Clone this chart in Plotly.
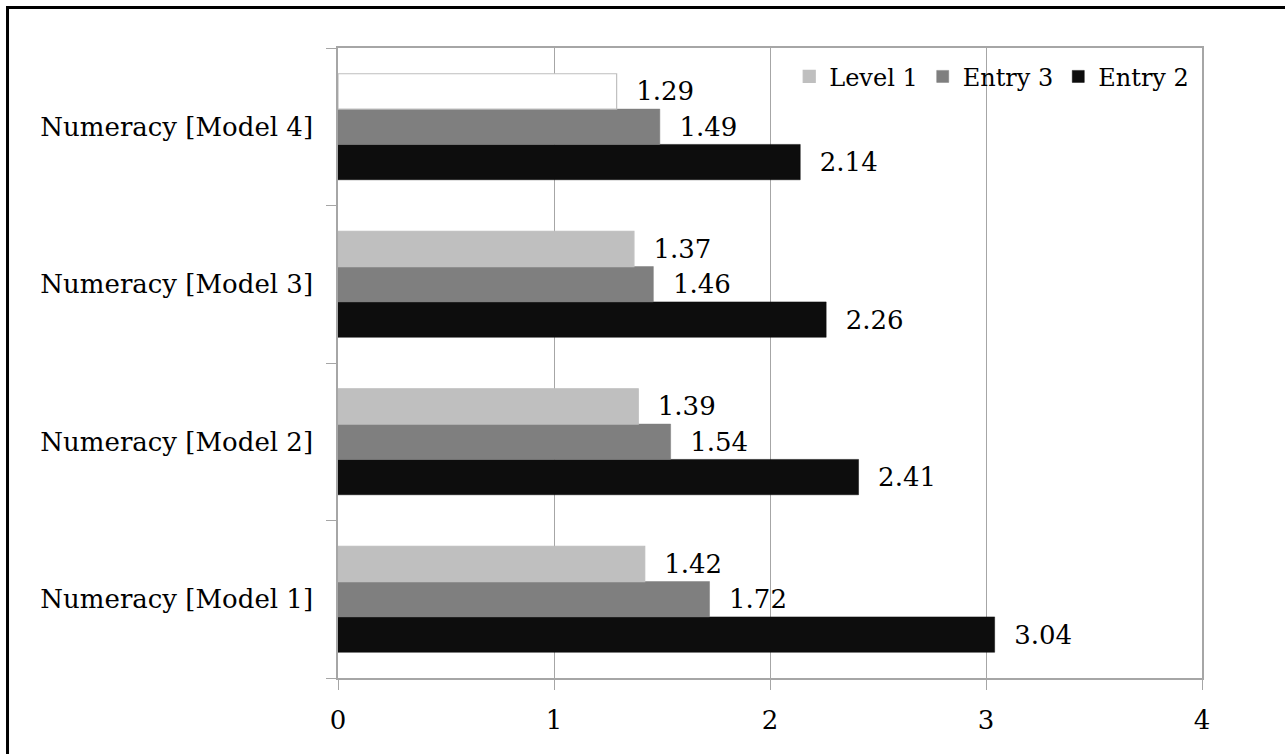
import plotly.graph_objects as go

categories = ["Numeracy [Model 1]", "Numeracy [Model 2]", "Numeracy [Model 3]", "Numeracy [Model 4]"]
level1 = [1.42, 1.39, 1.37, 1.29]
entry3 = [1.72, 1.54, 1.46, 1.49]
entry2 = [3.04, 2.41, 2.26, 2.14]
x_ticks = [0, 1, 2, 3, 4]

FONT = "DejaVu Serif"
level1_fill = ["#BFBFBF", "#BFBFBF", "#BFBFBF", "#FFFFFF"]

fig = go.Figure()
common = dict(orientation="h", textposition="outside", cliponaxis=False,
              texttemplate="\u00a0\u00a0%{x:.2f}",
              textfont=dict(family=FONT, size=26, color="#000000"))
fig.add_trace(go.Bar(name="Entry 2", y=categories, x=entry2,
                     marker=dict(color="#0D0D0D", line=dict(color="#0D0D0D", width=0.5)), **common))
fig.add_trace(go.Bar(name="Entry 3", y=categories, x=entry3,
                     marker=dict(color="#7F7F7F", line=dict(color="#7F7F7F", width=0.5)), **common))
fig.add_trace(go.Bar(name="Level 1", y=categories, x=level1,
                     marker=dict(color=level1_fill, line=dict(color="#BFBFBF", width=1.2)), **common))

fig.update_layout(
    width=1285, height=754,
    barmode="group", bargap=0.327, bargroupgap=0,
    paper_bgcolor="#FFFFFF", plot_bgcolor="#FFFFFF",
    margin=dict(l=338, r=83, t=48, b=76),
    font=dict(family=FONT, size=26, color="#000000"),
    showlegend=True,
    legend=dict(orientation="h", traceorder="reversed", x=0.991, xanchor="right",
                y=0.99, yanchor="top", bgcolor="rgba(0,0,0,0)",
                font=dict(family=FONT, size=24, color="#000000"),
                itemwidth=30, tracegroupgap=0),
    xaxis=dict(range=[0, 4], tickvals=x_ticks, ticktext=[str(v) for v in x_ticks],
               showgrid=True, gridcolor="#A6A6A6", gridwidth=1,
               showline=True, linecolor="#A6A6A6", linewidth=1.5, mirror=True,
               ticks="outside", ticklen=10, tickcolor="#A6A6A6",
               zeroline=False, ticklabelstandoff=8,
               tickfont=dict(family=FONT, size=26, color="#000000")),
    yaxis=dict(categoryorder="array", categoryarray=categories,
               showline=True, linecolor="#A6A6A6", linewidth=1.5, mirror=True,
               ticks="outside", ticklen=10, tickcolor="#A6A6A6", tickson="boundaries",
               showgrid=False, ticklabelstandoff=18,
               tickfont=dict(family=FONT, size=26, color="#000000")),
    shapes=[dict(type="rect", xref="paper", yref="paper",
                 x0=-0.3825, x1=1.2, y0=-0.2, y1=1.0643,
                 line=dict(color="#000000", width=3), fillcolor="rgba(0,0,0,0)", layer="above")],
)

fig.write_html("out.html", config={"displayModeBar": False},
               post_script="document.body.style.margin='0';")
